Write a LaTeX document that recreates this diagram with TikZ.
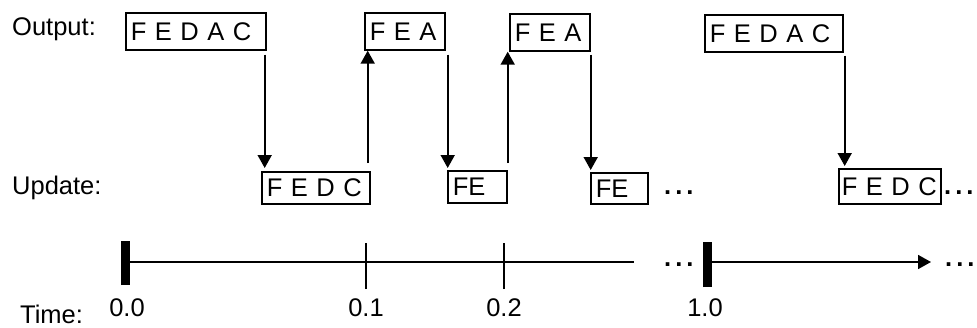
\documentclass[tikz,border=0pt]{standalone}
\usepackage{fontspec}
\setmainfont{Liberation Sans}
\usetikzlibrary{arrows.meta}

\newcommand{\moredots}{\textbf{.\hspace{4pt}.\hspace{4pt}.}}

\tikzset{
  slot/.style={draw, line width=1.7pt, anchor=north west, inner xsep=5pt, inner ysep=0pt,
    align=left, text height=18pt, text depth=0pt},
  flow/.style={line width=1.8pt, -{Triangle[length=13pt,width=14pt]}},
  lbl/.style={font=\fontsize{25.5}{30}\selectfont, inner sep=0pt}
}

\begin{document}
\begin{tikzpicture}[x=1pt, y=-1pt, font=\fontsize{25.5}{30}\selectfont]
    \useasboundingbox (0,0) rectangle (977,327);

    % Row labels
    \node[lbl, anchor=west] (lout) at (12,29) {Output:};
    \node[lbl, anchor=west] (lupd) at (12,188) {Update:};
    \node[lbl, anchor=west] (ltim) at (20,314) {Time:};

    % Output boxes
    \node[slot, text width=130pt, minimum height=37pt] (o1) at (125,12) {F E D A C};
    \node[slot, text width=70pt, minimum height=37pt] (o2) at (364,12) {F E A};
    \node[slot, text width=70pt, minimum height=37pt] (o3) at (509,13) {F E A};
    \node[slot, text width=128pt, minimum height=37pt] (o4) at (704,14) {F E D A C};

    % Update boxes
    \node[slot, text width=98pt, minimum height=32pt] (u1) at (261,171) {F E D C};
    \node[slot, text width=49pt, minimum height=32pt] (u2) at (447,170) {FE};
    \node[slot, text width=47pt, minimum height=31pt] (u3) at (590,172) {FE};
    \node[slot, inner xsep=3pt, text width=96pt, minimum height=35pt] (u4) at (838,168) {F E D C};

    % Dots after update boxes
    \node[lbl, anchor=base west] (d1) at (664,194) {\moredots};
    \node[lbl, anchor=base west] (d2) at (944,194) {\moredots};

    % Arrows
    \draw[flow, shorten <=4pt, shorten >=3pt] ([xshift=-2pt]o1.south east) -- ([xshift=-2pt]o1.south east |- u1.north);
    \draw[flow, shorten <=8pt] ([xshift=-3pt]u1.north east) -- ([xshift=-3pt]u1.north east |- o2.south);
    \draw[flow, shorten <=4pt, shorten >=2pt] ([xshift=2pt]o2.south east) -- ([xshift=2pt]o2.south east |- u2.north);
    \draw[flow, shorten <=7pt] (u2.north east) -- (u2.north east |- o3.south);
    \draw[flow, shorten <=3pt, shorten >=2pt] (o3.south east) -- (o3.south east |- u3.north);
    \draw[flow, shorten <=3pt, shorten >=2pt] ([xshift=1pt]o4.south east) -- ([xshift=1pt]o4.south east |- u4.north);

    % Time axis
    \coordinate (t0) at (125,262);
    \coordinate (t1) at (366,262);
    \coordinate (t2) at (504,262);
    \coordinate (tend) at (634,262);
    \coordinate (s0) at (707,262);
    \coordinate (send) at (931,262);
    \draw[line width=1.8pt] (t0) -- (tend);
    \draw[line width=9pt] ([yshift=-23pt]t0) -- ([yshift=21pt]t0);
    \draw[line width=1.8pt] ([yshift=-27pt]t1) -- ([yshift=19pt]t1);
    \draw[line width=1.8pt] ([yshift=-27pt]t2) -- ([yshift=19pt]t2);
    \draw[line width=9pt] ([yshift=-25pt]s0) -- ([yshift=20pt]s0);
    \draw[flow] (s0) -- (send);
    \node[lbl, anchor=base west] (d3) at (664,266) {\moredots};
    \node[lbl, anchor=base west] (d4) at (945,266) {\moredots};

    % Time values
    \node[lbl] (v0) at (127,308) {0.0};
    \node[lbl] (v1) at (366,308) {0.1};
    \node[lbl] (v2) at (504,308) {0.2};
    \node[lbl] (v3) at (705,308) {1.0};
\end{tikzpicture}
\end{document}
